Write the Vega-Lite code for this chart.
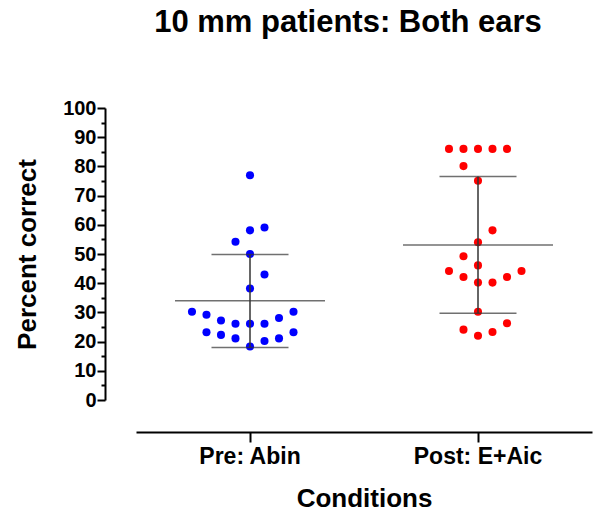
{
  "$schema": "https://vega.github.io/schema/vega-lite/v6.json",
  "width": 456,
  "height": 292,
  "autosize": {"type": "none"},
  "padding": {"left": 136, "top": 108, "right": 9, "bottom": 117},
  "background": "white",
  "title": {
    "text": "10 mm patients: Both ears",
    "font": "Liberation Sans",
    "fontSize": 31,
    "fontWeight": "bold",
    "color": "black",
    "anchor": "middle",
    "frame": "group",
    "dx": -16,
    "offset": 28,
    "baseline": "bottom"
  },
  "datasets": {
    "points": [
      {"group": "Pre: Abin", "value": 77, "slot": 0},
      {"group": "Pre: Abin", "value": 58.1, "slot": 0},
      {"group": "Pre: Abin", "value": 59.1, "slot": 1},
      {"group": "Pre: Abin", "value": 54.2, "slot": -1},
      {"group": "Pre: Abin", "value": 50, "slot": 0},
      {"group": "Pre: Abin", "value": 43, "slot": 1},
      {"group": "Pre: Abin", "value": 38.2, "slot": 0},
      {"group": "Pre: Abin", "value": 30.2, "slot": -4},
      {"group": "Pre: Abin", "value": 29.2, "slot": -3},
      {"group": "Pre: Abin", "value": 30.2, "slot": 3},
      {"group": "Pre: Abin", "value": 28.1, "slot": 2},
      {"group": "Pre: Abin", "value": 27.2, "slot": -2},
      {"group": "Pre: Abin", "value": 26.1, "slot": -1},
      {"group": "Pre: Abin", "value": 26.1, "slot": 0},
      {"group": "Pre: Abin", "value": 26.1, "slot": 1},
      {"group": "Pre: Abin", "value": 23.2, "slot": -3},
      {"group": "Pre: Abin", "value": 22.3, "slot": -2},
      {"group": "Pre: Abin", "value": 21.1, "slot": -1},
      {"group": "Pre: Abin", "value": 20.2, "slot": 1},
      {"group": "Pre: Abin", "value": 21.1, "slot": 2},
      {"group": "Pre: Abin", "value": 23.2, "slot": 3},
      {"group": "Pre: Abin", "value": 18.3, "slot": 0},
      {"group": "Post: E+Aic", "value": 86, "slot": -2},
      {"group": "Post: E+Aic", "value": 86, "slot": -1},
      {"group": "Post: E+Aic", "value": 86, "slot": 0},
      {"group": "Post: E+Aic", "value": 86, "slot": 1},
      {"group": "Post: E+Aic", "value": 86, "slot": 2},
      {"group": "Post: E+Aic", "value": 80.1, "slot": -1},
      {"group": "Post: E+Aic", "value": 75.1, "slot": 0},
      {"group": "Post: E+Aic", "value": 58.1, "slot": 1},
      {"group": "Post: E+Aic", "value": 54, "slot": 0},
      {"group": "Post: E+Aic", "value": 49.2, "slot": -1},
      {"group": "Post: E+Aic", "value": 46.1, "slot": 0},
      {"group": "Post: E+Aic", "value": 44.2, "slot": -2},
      {"group": "Post: E+Aic", "value": 44.2, "slot": 3},
      {"group": "Post: E+Aic", "value": 42.1, "slot": -1},
      {"group": "Post: E+Aic", "value": 42.1, "slot": 2},
      {"group": "Post: E+Aic", "value": 40.2, "slot": 0},
      {"group": "Post: E+Aic", "value": 40.2, "slot": 1},
      {"group": "Post: E+Aic", "value": 30.2, "slot": 0},
      {"group": "Post: E+Aic", "value": 26.3, "slot": 2},
      {"group": "Post: E+Aic", "value": 24.1, "slot": -1},
      {"group": "Post: E+Aic", "value": 23.3, "slot": 1},
      {"group": "Post: E+Aic", "value": 22, "slot": 0}
    ],
    "stats": [
      {"group": "Pre: Abin", "mean": 34.0, "lo": 18.0, "hi": 49.8},
      {"group": "Post: E+Aic", "mean": 53.1, "lo": 29.7, "hi": 76.5}
    ]
  },
  "encoding": {
    "x": {
      "field": "group",
      "type": "nominal",
      "sort": ["Pre: Abin", "Post: E+Aic"],
      "scale": {"paddingInner": 0, "paddingOuter": 0},
      "title": "Conditions",
      "axis": {
        "offset": 32,
        "labelAngle": 0,
        "tickSize": 10,
        "tickWidth": 2,
        "tickColor": "black",
        "domainWidth": 2,
        "domainColor": "black",
        "labelFont": "Liberation Sans",
        "labelFontSize": 23,
        "labelFontWeight": "bold",
        "labelColor": "black",
        "labelPadding": 3,
        "titleFont": "Liberation Sans",
        "titleFontSize": 26,
        "titleFontWeight": "bold",
        "titleColor": "black",
        "titlePadding": 17
      }
    }
  },
  "layer": [
    {
      "data": {"name": "points"},
      "mark": {"type": "circle", "size": 65, "opacity": 1},
      "encoding": {
        "y": {
          "field": "value",
          "type": "quantitative",
          "title": "Percent correct",
          "scale": {"domain": [0, 100], "nice": false, "zero": true},
          "axis": {
            "offset": 31,
            "values": [0, 5, 10, 15, 20, 25, 30, 35, 40, 45, 50, 55, 60, 65, 70, 75, 80, 85, 90, 95, 100],
            "labelExpr": "datum.value % 10 === 0 ? datum.label : ''",
            "labelOverlap": false,
            "tickSize": {"condition": {"test": "datum.value % 10 === 0", "value": 8}, "value": 4},
            "tickWidth": 2, "tickColor": "black", "domainWidth": 2, "domainColor": "black", "grid": false,
            "labelFont": "Liberation Sans", "labelFontSize": 20, "labelFontWeight": "bold", "labelColor": "black", "labelPadding": 1,
            "titleFont": "Liberation Sans", "titleFontSize": 26, "titleFontWeight": "bold", "titleColor": "black", "titlePadding": 22
          }
        },
        "xOffset": {
          "field": "slot",
          "type": "quantitative",
          "scale": {"domain": [-7.86, 7.86], "nice": false, "zero": false}
        },
        "color": {
          "field": "group",
          "type": "nominal",
          "scale": {"domain": ["Pre: Abin", "Post: E+Aic"], "range": ["#0000ff", "#ff0000"]},
          "legend": null
        }
      }
    },
    {
      "data": {"name": "stats"},
      "mark": {"type": "rule", "color": "#333333", "strokeWidth": 1.5},
      "encoding": {
        "y": {
          "field": "lo", "type": "quantitative", "title": "Percent correct",
          "axis": {
            "offset": 31,
            "values": [0, 5, 10, 15, 20, 25, 30, 35, 40, 45, 50, 55, 60, 65, 70, 75, 80, 85, 90, 95, 100],
            "labelExpr": "datum.value % 10 === 0 ? datum.label : ''",
            "labelOverlap": false,
            "tickSize": {"condition": {"test": "datum.value % 10 === 0", "value": 8}, "value": 4},
            "tickWidth": 2, "tickColor": "black", "domainWidth": 2, "domainColor": "black", "grid": false,
            "labelFont": "Liberation Sans", "labelFontSize": 20, "labelFontWeight": "bold", "labelColor": "black", "labelPadding": 1,
            "titleFont": "Liberation Sans", "titleFontSize": 26, "titleFontWeight": "bold", "titleColor": "black", "titlePadding": 22
          }
        },
        "y2": {"field": "hi"}
      }
    },
    {
      "data": {"name": "stats"},
      "mark": {"type": "tick", "color": "#333333", "size": 150, "thickness": 1.5},
      "encoding": {
        "y": {
          "field": "mean", "type": "quantitative", "title": "Percent correct",
          "axis": {
            "offset": 31,
            "values": [0, 5, 10, 15, 20, 25, 30, 35, 40, 45, 50, 55, 60, 65, 70, 75, 80, 85, 90, 95, 100],
            "labelExpr": "datum.value % 10 === 0 ? datum.label : ''",
            "labelOverlap": false,
            "tickSize": {"condition": {"test": "datum.value % 10 === 0", "value": 8}, "value": 4},
            "tickWidth": 2, "tickColor": "black", "domainWidth": 2, "domainColor": "black", "grid": false,
            "labelFont": "Liberation Sans", "labelFontSize": 20, "labelFontWeight": "bold", "labelColor": "black", "labelPadding": 1,
            "titleFont": "Liberation Sans", "titleFontSize": 26, "titleFontWeight": "bold", "titleColor": "black", "titlePadding": 22
          }
        }
      }
    },
    {
      "data": {"name": "stats"},
      "mark": {"type": "tick", "color": "#333333", "size": 77, "thickness": 1.5},
      "encoding": {
        "y": {
          "field": "lo", "type": "quantitative", "title": "Percent correct",
          "axis": {
            "offset": 31,
            "values": [0, 5, 10, 15, 20, 25, 30, 35, 40, 45, 50, 55, 60, 65, 70, 75, 80, 85, 90, 95, 100],
            "labelExpr": "datum.value % 10 === 0 ? datum.label : ''",
            "labelOverlap": false,
            "tickSize": {"condition": {"test": "datum.value % 10 === 0", "value": 8}, "value": 4},
            "tickWidth": 2, "tickColor": "black", "domainWidth": 2, "domainColor": "black", "grid": false,
            "labelFont": "Liberation Sans", "labelFontSize": 20, "labelFontWeight": "bold", "labelColor": "black", "labelPadding": 1,
            "titleFont": "Liberation Sans", "titleFontSize": 26, "titleFontWeight": "bold", "titleColor": "black", "titlePadding": 22
          }
        }
      }
    },
    {
      "data": {"name": "stats"},
      "mark": {"type": "tick", "color": "#333333", "size": 77, "thickness": 1.5},
      "encoding": {
        "y": {
          "field": "hi", "type": "quantitative", "title": "Percent correct",
          "axis": {
            "offset": 31,
            "values": [0, 5, 10, 15, 20, 25, 30, 35, 40, 45, 50, 55, 60, 65, 70, 75, 80, 85, 90, 95, 100],
            "labelExpr": "datum.value % 10 === 0 ? datum.label : ''",
            "labelOverlap": false,
            "tickSize": {"condition": {"test": "datum.value % 10 === 0", "value": 8}, "value": 4},
            "tickWidth": 2, "tickColor": "black", "domainWidth": 2, "domainColor": "black", "grid": false,
            "labelFont": "Liberation Sans", "labelFontSize": 20, "labelFontWeight": "bold", "labelColor": "black", "labelPadding": 1,
            "titleFont": "Liberation Sans", "titleFontSize": 26, "titleFontWeight": "bold", "titleColor": "black", "titlePadding": 22
          }
        }
      }
    }
  ],
  "config": {
    "view": {"stroke": null},
    "font": "Liberation Sans"
  }
}
